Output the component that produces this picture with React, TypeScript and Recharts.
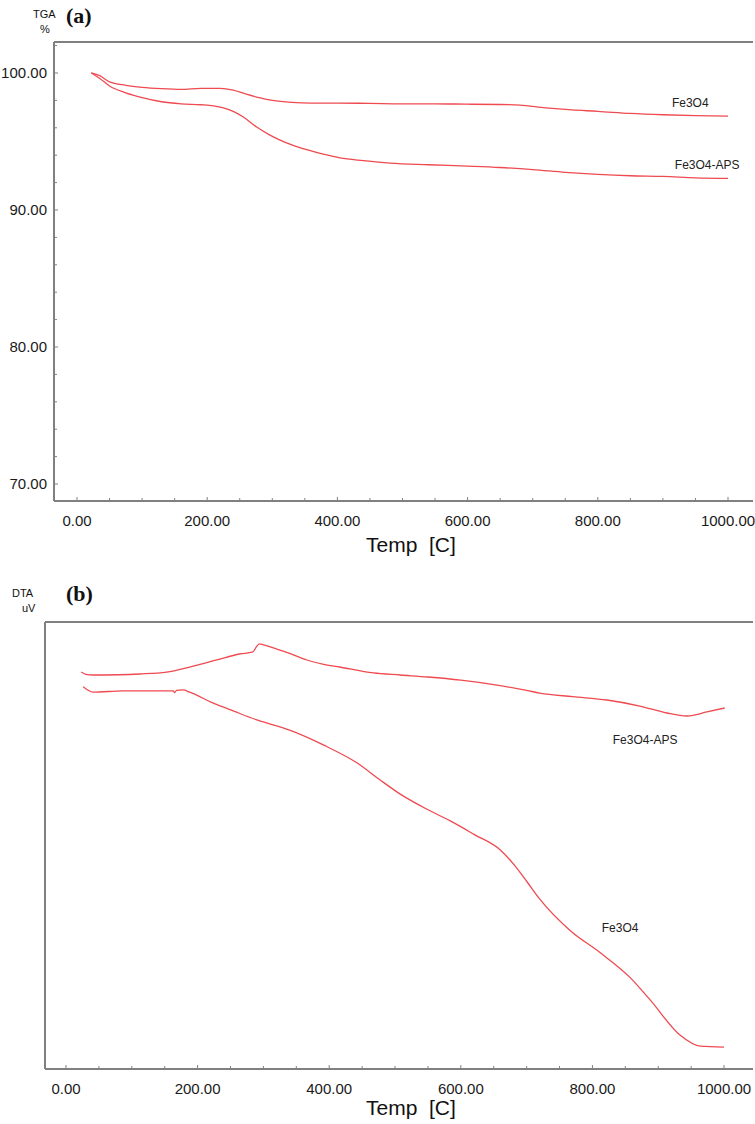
import React from 'react';
import { LineChart, Line, XAxis, YAxis, ReferenceDot } from 'recharts';

// (a) TGA, mass % vs temperature
const tgaFeTemp = [22, 35, 50, 75, 100, 130, 160, 190, 220, 240, 260, 280, 300, 330, 360, 400, 450, 500, 550, 600, 650, 680, 720, 760, 800, 850, 900, 950, 1000];
const tgaFeMass = [100, 99.8, 99.35, 99.1, 98.95, 98.85, 98.8, 98.88, 98.88, 98.75, 98.45, 98.2, 98.0, 97.85, 97.8, 97.8, 97.78, 97.75, 97.75, 97.72, 97.7, 97.65, 97.45, 97.3, 97.2, 97.05, 96.95, 96.88, 96.85];
const tgaApsTemp = [22, 35, 50, 75, 100, 130, 160, 190, 210, 225, 240, 255, 276, 295, 312, 330, 353, 380, 404, 440, 481, 540, 600, 650, 700, 750, 800, 850, 900, 950, 1000];
const tgaApsMass = [100, 99.6, 99.05, 98.55, 98.2, 97.9, 97.75, 97.68, 97.6, 97.45, 97.2, 96.8, 96.05, 95.5, 95.1, 94.75, 94.4, 94.05, 93.8, 93.6, 93.42, 93.3, 93.2, 93.1, 92.95, 92.75, 92.6, 92.5, 92.45, 92.35, 92.3];

// (b) DTA, uV vs temperature (no scale printed, relative units)
const dtaApsTemp = [23, 30, 41, 80, 112, 153, 188, 229, 264, 284, 290, 294, 300, 315, 340, 366, 390, 416, 467, 508, 550, 600, 650, 700, 720, 770, 822, 872, 913, 944, 974, 1001];
const dtaApsSignal = [8.8, 8.3, 8.14, 8.2, 8.37, 8.8, 9.93, 11.5, 12.84, 13.3, 14.6, 15.1, 14.9, 14.2, 13.0, 11.5, 10.6, 9.93, 8.6, 8.14, 7.7, 7.0, 6.0, 4.7, 4.1, 3.3, 2.55, 1.2, -0.36, -1.03, -0.13, 0.76];
const dtaFeTemp = [26, 33, 41, 87, 120, 163, 165, 168, 178, 188, 223, 256, 290, 340, 391, 442, 477, 508, 550, 584, 620, 660, 682, 700, 720, 766, 812, 857, 888, 933, 964, 1000];
const dtaFeSignal = [5.5, 4.8, 4.3, 4.6, 4.6, 4.6, 4.2, 4.7, 4.8, 4.3, 1.9, 0.0, -1.9, -4.2, -7.5, -11.5, -15.3, -18.5, -22, -24.5, -27.5, -31, -34.5, -38, -42, -49, -54, -59.5, -64.6, -72.4, -74.9, -75.1];

// series name labels, placed in data units [temp, value]
const tgaFeLabel = [942, 97.8];
const tgaApsLabel = [968, 93.3];
const dtaApsLabel = [880, -6.4];
const dtaFeLabel = [842, -48.5];

const xTicks = Array.from({ length: 21 }, (_, i) => i * 50);
const tgaTicks = Array.from({ length: 17 }, (_, i) => 70 + i * 2);

const toRows = (t: number[], v: number[]) => t.map((x, i) => ({ t: x, v: v[i] }));

const RED = '#ee4a50';
const AXIS = '#808080';
const NUM_FONT = '"Liberation Sans Narrow", "Liberation Sans", Arial, sans-serif';
const SANS = '"Liberation Sans", Arial, sans-serif';

const XTick = (props: any) => {
  const { x, y, payload } = props;
  const major = payload.value % 200 === 0;
  return (
    <g>
      <line x1={x} y1={y} x2={x} y2={y - (major ? 4 : 3)} stroke={AXIS} strokeWidth={1} />
      {major && (
        <text x={x} y={y + 25} textAnchor="middle" fill="#1a1a1a" fontSize={15} fontFamily={NUM_FONT}>
          {payload.value.toFixed(2)}
        </text>
      )}
    </g>
  );
};

const YTick = (props: any) => {
  const { x, y, payload } = props;
  const major = payload.value % 10 === 0;
  return (
    <g>
      <line x1={x} y1={y} x2={x + (major ? 4 : 3)} y2={y} stroke={AXIS} strokeWidth={1} />
      {major && (
        <text x={x - 7} y={y + 5} textAnchor="end" fill="#1a1a1a" fontSize={15} fontFamily={NUM_FONT}>
          {payload.value.toFixed(2)}
        </text>
      )}
    </g>
  );
};

const seriesLabel = (text: string) => ({
  value: text,
  position: 'center' as const,
  fill: '#222',
  fontSize: 12,
  fontFamily: NUM_FONT,
});

const abs = (left: number, top: number, extra: React.CSSProperties = {}): React.CSSProperties => ({
  position: 'absolute',
  left,
  top,
  lineHeight: 1,
  whiteSpace: 'nowrap',
  color: '#111',
  ...extra,
});

export default function App() {
  return (
    <div style={{ position: 'absolute', left: 0, top: 0, width: 755, height: 1124, background: '#fff' }}>
      {/* (a) TGA */}
      <div style={{ position: 'absolute', left: 0, top: 0 }}>
        <LineChart width={755} height={560} margin={{ top: 41, right: 2, left: 53, bottom: 58 }}>
          <XAxis
            dataKey="t"
            type="number"
            domain={[-35.3, 1038.4]}
            ticks={xTicks}
            interval={0}
            allowDataOverflow
            tick={<XTick />}
            tickSize={0}
            tickMargin={0}
            height={1}
            axisLine={{ stroke: AXIS, strokeWidth: 2 }}
          />
          <XAxis xAxisId="top" orientation="top" type="number" domain={[0, 1]} tick={false} tickLine={false} height={1} axisLine={{ stroke: AXIS, strokeWidth: 2 }} />
          <YAxis
            type="number"
            domain={[68.76, 102.26]}
            ticks={tgaTicks}
            interval={0}
            allowDataOverflow
            tick={<YTick />}
            tickSize={0}
            tickMargin={0}
            width={1}
            axisLine={{ stroke: AXIS, strokeWidth: 2 }}
          />
          <Line data={toRows(tgaFeTemp, tgaFeMass)} dataKey="v" type="monotone" stroke={RED} strokeWidth={1.3} dot={false} isAnimationActive={false} />
          <Line data={toRows(tgaApsTemp, tgaApsMass)} dataKey="v" type="monotone" stroke={RED} strokeWidth={1.3} dot={false} isAnimationActive={false} />
          <ReferenceDot x={tgaFeLabel[0]} y={tgaFeLabel[1]} r={0} stroke="none" fill="none" label={seriesLabel('Fe3O4')} />
          <ReferenceDot x={tgaApsLabel[0]} y={tgaApsLabel[1]} r={0} stroke="none" fill="none" label={seriesLabel('Fe3O4-APS')} />
        </LineChart>
      </div>
      <div style={abs(33, 9, { fontSize: 11, fontFamily: SANS })}>TGA</div>
      <div style={abs(40, 24, { fontSize: 11, fontFamily: SANS })}>%</div>
      <div style={abs(66, 5, { fontSize: 22, fontFamily: '"Liberation Serif", serif', fontWeight: 'bold' })}>(a)</div>
      <div style={abs(366, 534, { fontSize: 21, fontFamily: SANS })}>Temp&nbsp;&nbsp;[C]</div>

      {/* (b) DTA */}
      <div style={{ position: 'absolute', left: 0, top: 560 }}>
        <LineChart width={755} height={564} margin={{ top: 61, right: 2, left: 44, bottom: 54 }}>
          <XAxis
            dataKey="t"
            type="number"
            domain={[-31.9, 1044]}
            ticks={xTicks}
            interval={0}
            allowDataOverflow
            tick={<XTick />}
            tickSize={0}
            tickMargin={0}
            height={1}
            axisLine={{ stroke: AXIS, strokeWidth: 2 }}
          />
          <XAxis xAxisId="top" orientation="top" type="number" domain={[0, 1]} tick={false} tickLine={false} height={1} axisLine={{ stroke: AXIS, strokeWidth: 2 }} />
          <YAxis type="number" domain={[-80, 20]} allowDataOverflow tick={false} tickLine={false} width={1} axisLine={{ stroke: AXIS, strokeWidth: 2 }} />
          <Line data={toRows(dtaApsTemp, dtaApsSignal)} dataKey="v" type="monotone" stroke={RED} strokeWidth={1.3} dot={false} isAnimationActive={false} />
          <Line data={toRows(dtaFeTemp, dtaFeSignal)} dataKey="v" type="monotone" stroke={RED} strokeWidth={1.3} dot={false} isAnimationActive={false} />
          <ReferenceDot x={dtaApsLabel[0]} y={dtaApsLabel[1]} r={0} stroke="none" fill="none" label={seriesLabel('Fe3O4-APS')} />
          <ReferenceDot x={dtaFeLabel[0]} y={dtaFeLabel[1]} r={0} stroke="none" fill="none" label={seriesLabel('Fe3O4')} />
        </LineChart>
      </div>
      <div style={abs(12, 588, { fontSize: 11, fontFamily: SANS })}>DTA</div>
      <div style={abs(22, 603, { fontSize: 11, fontFamily: SANS })}>uV</div>
      <div style={abs(66, 583, { fontSize: 22, fontFamily: '"Liberation Serif", serif', fontWeight: 'bold' })}>(b)</div>
      <div style={abs(366, 1097, { fontSize: 21, fontFamily: SANS })}>Temp&nbsp;&nbsp;[C]</div>
    </div>
  );
}
